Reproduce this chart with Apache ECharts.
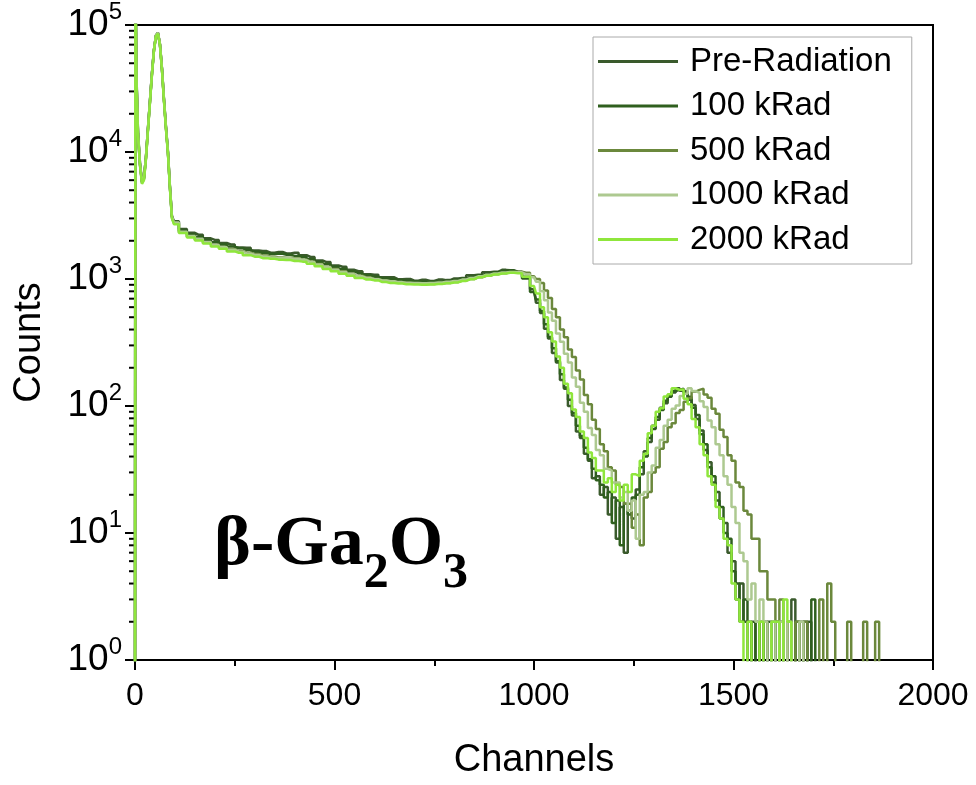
<!DOCTYPE html>
<html>
<head>
<meta charset="utf-8">
<script src="https://cdn.jsdelivr.net/npm/echarts@6/dist/echarts.min.js"></script>
<style>
  html, body { margin: 0; padding: 0; background: #fff; }
  #chart { width: 976px; height: 785px; }
</style>
</head>
<body>
<div id="chart"></div>
<script>
// channel grid (fine near the peak, 20 ch in the flat body, 10 ch in the tail)
var channels = [
    0, 2, 5, 10, 15, 20, 25, 30, 35, 40, 45, 50, 55, 60, 65, 70, 75, 80, 85, 90, 95, 100,
    120, 140, 160, 180, 200, 220, 240, 260, 280, 300, 320, 340, 360, 380, 400, 420, 440, 460, 480,
    500, 520, 540, 560, 580, 600, 620, 640, 660, 680, 700, 720, 740, 760, 780, 800, 820, 840, 860,
    880, 900, 920, 940, 960, 980, 1000,
    1010, 1020, 1030, 1040, 1050, 1060, 1070, 1080, 1090, 1100,
    1110, 1120, 1130, 1140, 1150, 1160, 1170, 1180, 1190, 1200,
    1210, 1220, 1230, 1240, 1250, 1260, 1270, 1280, 1290, 1300,
    1310, 1320, 1330, 1340, 1350, 1360, 1370, 1380, 1390, 1400,
    1410, 1420, 1430, 1440, 1450, 1460, 1470, 1480, 1490, 1500,
    1510, 1520, 1530, 1540, 1550, 1560, 1570, 1580, 1590, 1600,
    1610, 1620, 1630, 1640, 1650, 1660, 1670, 1680, 1690, 1700,
    1710, 1720, 1730, 1740, 1750, 1760, 1770, 1780, 1790, 1800,
    1810, 1820, 1830, 1840, 1850, 1860, 1870, 1880, 1890, 1900
];

var seriesNames = ['Pre-Radiation', '100 kRad', '500 kRad', '1000 kRad', '2000 kRad'];
var seriesColors = ['#3a5a2c', '#2f5f1e', '#6b883c', '#adc990', '#8fe63c'];

// counts (0.5 = empty channel, falls below the 10^0 floor)
var preRadiation = [
    0.5, 300000, 42000, 14500, 8200, 5900, 6300, 9200, 15500, 25500, 42000, 64000, 83000, 87000, 71000, 46000, 26500, 16000, 10200, 5400, 3150, 2850,
    2480, 2310, 2230, 2090, 2030, 1920, 1870, 1770, 1760, 1680, 1660, 1610, 1630, 1590, 1610, 1540, 1490, 1400, 1360,
    1280, 1250, 1180, 1150, 1090, 1080, 1030, 1030, 995, 1000, 970, 985, 965, 990, 980, 1010, 1020, 1070, 1080,
    1130, 1140, 1180, 1170, 1140, 1040, 830,
    650, 540, 405, 340, 262, 220, 160, 137, 100, 84,
    63, 56, 42, 37, 27, 28, 20, 23, 14, 19,
    9, 16, 7, 15, 13, 22, 29, 44, 52, 70,
    78, 97, 105, 122, 128, 138, 132, 130, 112, 102,
    79, 64, 45, 36, 25, 21, 13, 12, 7, 6,
    3, 4, 2, 0.5, 2, 0.5, 2, 0.5, 2, 0.5,
    2, 0.5, 0.5, 2, 3, 0.5, 2, 0.5, 2, 0.5,
    0.5, 0.5, 0.5, 0.5, 0.5, 0.5, 0.5, 0.5, 0.5, 0.5,
    0.5, 0.5, 0.5, 0.5, 0.5, 0.5, 0.5, 0.5, 0.5, 0.5
];
var kRad100 = [
    0.5, 280000, 40000, 14000, 8000, 5800, 6200, 9100, 15200, 25000, 41500, 63500, 82500, 86500, 70500, 45500, 26000, 15700, 10000, 5300, 3100, 2800,
    2400, 2240, 2150, 2030, 1950, 1870, 1800, 1750, 1690, 1640, 1600, 1570, 1580, 1550, 1520, 1490, 1430, 1370, 1310,
    1250, 1200, 1150, 1110, 1070, 1040, 1010, 1000, 975, 965, 955, 950, 950, 955, 965, 980, 1005, 1040, 1070,
    1100, 1130, 1155, 1165, 1130, 1010, 790,
    690, 560, 440, 350, 285, 225, 178, 140, 112, 88,
    70, 58, 47, 38, 32, 26, 24, 19, 21, 12,
    18, 8, 17, 14, 19, 20, 33, 40, 56, 66,
    82, 93, 110, 118, 131, 134, 137, 126, 118, 97,
    85, 60, 50, 33, 28, 18, 16, 10, 9, 5,
    4, 2, 3, 2, 0.5, 2, 0.5, 2, 0.5, 2,
    0.5, 2, 0.5, 0.5, 0.5, 2, 0.5, 2, 0.5, 3,
    0.5, 0.5, 0.5, 0.5, 0.5, 0.5, 0.5, 0.5, 0.5, 0.5,
    0.5, 0.5, 0.5, 0.5, 0.5, 0.5, 0.5, 0.5, 0.5, 0.5
];
var kRad500 = [
    0.5, 260000, 39000, 13800, 7900, 5700, 6100, 8900, 15000, 24800, 41000, 63000, 82000, 86000, 70000, 45000, 25800, 15500, 9900, 5250, 3050, 2750,
    2330, 2150, 2040, 1950, 1860, 1790, 1720, 1660, 1610, 1570, 1530, 1500, 1480, 1470, 1460, 1420, 1370, 1310, 1250,
    1200, 1150, 1100, 1060, 1030, 1000, 975, 955, 940, 930, 920, 915, 915, 920, 930, 945, 970, 1000, 1030,
    1060, 1090, 1110, 1130, 1140, 1120, 1050,
    1000, 930, 810, 710, 580, 500, 400, 348, 278, 243,
    190, 162, 122, 103, 78, 66, 50, 44, 33, 31,
    24, 23, 17, 17, 11, 14, 8, 19, 21, 30,
    33, 46, 52, 68, 73, 88, 93, 108, 115, 130,
    134, 137, 123, 116, 95, 87, 65, 57, 41, 37,
    25, 23, 15, 14, 9, 9, 5, 5, 3, 3,
    2, 3, 0.5, 2, 0.5, 2, 0.5, 2, 0.5, 0.5,
    0.5, 3, 0.5, 4, 2, 0.5, 0.5, 0.5, 2, 0.5,
    0.5, 0.5, 2, 0.5, 0.5, 2, 0.5, 0.5, 0.5, 0.5
];
var kRad1000 = [
    0.5, 270000, 41000, 14200, 8100, 5850, 6250, 9150, 15300, 25200, 41800, 63800, 82800, 86800, 70800, 45800, 26200, 15800, 10100, 5350, 3120, 2780,
    2360, 2180, 2070, 1960, 1850, 1780, 1700, 1640, 1590, 1545, 1505, 1475, 1465, 1455, 1445, 1410, 1360, 1300, 1240,
    1185, 1135, 1090, 1050, 1020, 995, 975, 960, 945, 935, 930, 925, 930, 940, 950, 965, 990, 1020, 1050,
    1080, 1105, 1125, 1135, 1130, 1090, 1030,
    950, 800, 680, 545, 470, 372, 320, 258, 220, 168,
    142, 106, 90, 67, 59, 45, 41, 32, 31, 25,
    25, 19, 21, 15, 18, 9, 20, 21, 30, 34,
    47, 54, 70, 78, 95, 101, 120, 125, 138, 131,
    127, 109, 98, 77, 68, 50, 41, 28, 24, 16,
    12, 7, 6, 3, 4, 2, 3, 2, 0.5, 2,
    0.5, 2, 0.5, 2, 0.5, 0.5, 2, 0.5, 0.5, 0.5,
    0.5, 0.5, 0.5, 0.5, 0.5, 0.5, 0.5, 0.5, 0.5, 0.5,
    0.5, 0.5, 0.5, 0.5, 0.5, 0.5, 0.5, 0.5, 0.5, 0.5
];
var kRad2000 = [
    0.5, 250000, 38000, 13500, 7800, 5600, 6000, 8800, 14800, 24500, 40500, 62500, 81500, 85500, 69500, 44500, 25500, 15300, 9800, 5200, 3000, 2700,
    2300, 2120, 2010, 1900, 1800, 1730, 1650, 1610, 1540, 1500, 1460, 1445, 1420, 1410, 1385, 1370, 1320, 1260, 1200,
    1150, 1100, 1060, 1020, 990, 975, 945, 930, 920, 910, 905, 900, 905, 915, 925, 940, 965, 995, 1030,
    1060, 1085, 1105, 1120, 1110, 1040, 880,
    770, 600, 500, 380, 322, 245, 200, 150, 126, 94,
    82, 63, 56, 43, 39, 31, 31, 25, 27, 21,
    24, 18, 24, 21, 29, 28, 37, 42, 61, 70,
    90, 96, 119, 124, 138, 134, 135, 114, 103, 79,
    68, 50, 41, 28, 24, 16, 13, 9, 8, 4,
    3, 2, 0.5, 2, 0.5, 0.5, 2, 0.5, 0.5, 2,
    2, 0.5, 3, 2, 0.5, 0.5, 0.5, 0.5, 0.5, 0.5,
    0.5, 0.5, 0.5, 0.5, 0.5, 0.5, 0.5, 0.5, 0.5, 0.5,
    0.5, 0.5, 0.5, 0.5, 0.5, 0.5, 0.5, 0.5, 0.5, 0.5
];

var yTickValues = [1, 10, 100, 1000, 10000, 100000];
var yTickExps = ['0', '1', '2', '3', '4', '5'];
var yMinorTicks = [
    2, 3, 4, 5, 6, 7, 8, 9,
    20, 30, 40, 50, 60, 70, 80, 90,
    200, 300, 400, 500, 600, 700, 800, 900,
    2000, 3000, 4000, 5000, 6000, 7000, 8000, 9000,
    20000, 30000, 40000, 50000, 60000, 70000, 80000, 90000
];

var allCounts = [preRadiation, kRad100, kRad500, kRad1000, kRad2000];
var font = "'Liberation Sans', Arial, sans-serif";
var serif = "'Liberation Serif', 'Times New Roman', serif";

function pairs(counts) {
    return channels.map(function (c, i) { return [c, counts[i]]; });
}

var series = allCounts.map(function (counts, k) {
    return {
        name: seriesNames[k],
        type: 'line',
        step: 'middle',
        data: pairs(counts),
        showSymbol: false,
        symbol: 'none',
        color: seriesColors[k],
        lineStyle: { width: 2.5, color: seriesColors[k] },
        clip: true
    };
});

// minor ticks of the log axis (2..9 in each decade)
series.push({
    type: 'custom',
    silent: true,
    clip: false,
    data: yMinorTicks.map(function (v) { return [0, v]; }),
    renderItem: function (params, api) {
        var p = api.coord([0, api.value(1)]);
        return {
            type: 'line',
            shape: { x1: p[0] - 6, y1: p[1], x2: p[0], y2: p[1] },
            style: { stroke: '#000', lineWidth: 2 }
        };
    }
});

var myChart = echarts.init(document.getElementById('chart'));
var option = {
    animation: false,
    backgroundColor: '#fff',
    grid: {
        left: 135, right: 43, top: 25, bottom: 117,
        show: true, borderColor: '#000', borderWidth: 2
    },
    legend: {
        orient: 'vertical',
        left: 593,
        top: 37,
        padding: [8, 20, 8, 5],
        icon: 'rect',
        itemWidth: 80,
        itemHeight: 3,
        itemGap: 11.5,
        borderColor: '#aaa',
        borderWidth: 1,
        backgroundColor: '#fff',
        textStyle: { fontSize: 33, color: '#000', fontFamily: font, padding: [0, 0, 0, 7] },
        data: seriesNames
    },
    xAxis: {
        type: 'value',
        min: 0,
        max: 2000,
        interval: 500,
        name: 'Channels',
        nameLocation: 'middle',
        nameGap: 82,
        nameTextStyle: { fontSize: 38, color: '#000', fontFamily: font },
        axisLine: { lineStyle: { color: '#000', width: 2 } },
        axisTick: { show: true, length: 10, lineStyle: { color: '#000', width: 2 } },
        minorTick: { show: true, splitNumber: 2, length: 6, lineStyle: { color: '#000', width: 2 } },
        axisLabel: {
            fontSize: 32, color: '#000', fontFamily: font, margin: 20,
            formatter: function (v) { return String(v); }
        },
        splitLine: { show: false }
    },
    yAxis: {
        type: 'log',
        logBase: 10,
        min: 1,
        max: 100000,
        name: 'Counts',
        nameLocation: 'middle',
        nameGap: 86,
        nameTextStyle: { fontSize: 38, color: '#000', fontFamily: font },
        axisLine: { lineStyle: { color: '#000', width: 2 } },
        axisTick: { show: true, length: 10, lineStyle: { color: '#000', width: 2 } },
        axisLabel: {
            color: '#000',
            fontFamily: font,
            margin: 13,
            formatter: function (v) {
                var i = yTickValues.indexOf(Math.round(v));
                return '{b|10}{s|' + yTickExps[i] + '}';
            },
            rich: {
                b: { fontSize: 37, fontFamily: font, color: '#000' },
                s: { fontSize: 24, fontFamily: font, color: '#000', padding: [0, 0, 26, 0] }
            }
        },
        splitLine: { show: false }
    },
    graphic: [{
        type: 'text',
        left: 214,
        top: 511,
        style: {
            text: '{m|β-Ga}{s|2}{m|O}{s|3}',
            rich: {
                m: { fontSize: 70, fontWeight: 'bold', fontFamily: serif, fill: '#000' },
                s: { fontSize: 50, fontWeight: 'bold', fontFamily: serif, fill: '#000', padding: [56, 0, 0, 0] }
            }
        }
    }],
    series: series
};
myChart.setOption(option);
</script>
</body>
</html>
